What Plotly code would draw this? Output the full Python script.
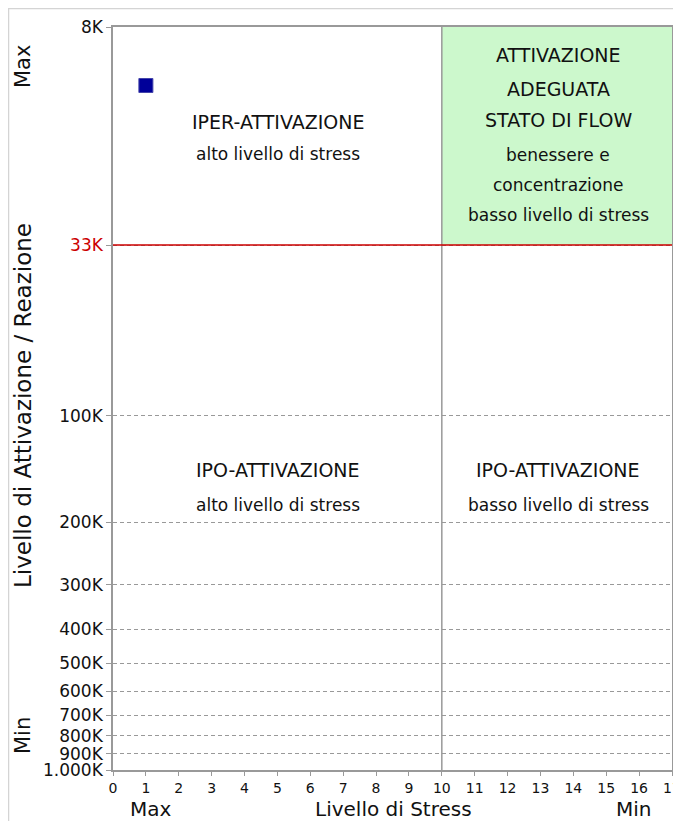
import math
import plotly.graph_objects as go

# ---- data ----
stress_values = [1]
activation_values = [11700]

x_ticks = list(range(0, 18))
y_tick_values = [8000, 33000, 100000, 200000, 300000, 400000, 500000,
                 600000, 700000, 800000, 900000, 1000000]
y_tick_labels = ["8K", "33K", "100K", "200K", "300K", "400K", "500K",
                 "600K", "700K", "800K", "900K", "1.000K"]
threshold_activation = 33000
threshold_stress = 10
x_min, x_max = 0, 17
y_top, y_bottom = 8000, 1000000

# page body has an 8px margin; the figure is placed at (8, 8) in the window
OFF = 8
W, H = 681 - OFF, 829 - 2 * OFF
L, T = 113 - OFF, 27 - OFF
R = W - (672 - OFF)
B = H - (770 - OFF)
pw, ph = W - L - R, H - T - B


def px(xpix):  # reference-window pixel -> paper x
    return (xpix - OFF - L) / pw


def py(ypix):  # reference-window pixel -> paper y
    return (770 - ypix) / ph


FONT = "DejaVu Sans"
red = "#cc0000"
ink = "#111111"

ticktext = [f"<span style='color:{red}'>{t}</span>" if v == threshold_activation else t
            for v, t in zip(y_tick_values, y_tick_labels)]

fig = go.Figure()
fig.add_trace(go.Scatter(
    x=stress_values, y=activation_values, mode="markers",
    marker=dict(symbol="square", size=14, color="#000099",
                line=dict(color="#4444aa", width=1)),
    showlegend=False, hoverinfo="x+y"))

shapes = []
shapes.append(dict(type="rect", xref="x", yref="y", x0=threshold_stress, x1=x_max,
                   y0=y_top, y1=threshold_activation, fillcolor="#ccf8cc",
                   line=dict(width=0), layer="below"))
shapes.append(dict(type="line", xref="x", yref="paper", x0=threshold_stress, x1=threshold_stress,
                   y0=0, y1=1, line=dict(color="#999999", width=1.5)))
shapes.append(dict(type="line", xref="paper", yref="y", x0=0, x1=1,
                   y0=threshold_activation, y1=threshold_activation,
                   line=dict(color=red, width=1.5)))
# outer frame of the picture
shapes.append(dict(type="rect", xref="paper", yref="paper", x0=px(8.5), x1=px(720),
                   y0=py(900), y1=py(8.5), line=dict(color="#d4d4d4", width=1.5),
                   fillcolor="rgba(0,0,0,0)"))

annotations = []


def txt(text, xpix, ypix, size=17, angle=0, color=ink):
    annotations.append(dict(text=text, xref="paper", yref="paper", x=px(xpix), y=py(ypix),
                            showarrow=False, textangle=angle, xanchor="center", yanchor="middle",
                            font=dict(family=FONT, size=size, color=color)))


CAP = 19
left_c, right_c = 278, 558
txt("IPER-ATTIVAZIONE", left_c, 122, CAP)
txt("alto livello di stress", left_c, 154)
for line, ypix, sz in [("ATTIVAZIONE", 55, CAP), ("ADEGUATA", 89, CAP), ("STATO DI FLOW", 120, CAP),
                       ("benessere e", 155, 17), ("concentrazione", 185, 17),
                       ("basso livello di stress", 215, 17)]:
    txt(line, right_c, ypix, sz)
txt("IPO-ATTIVAZIONE", left_c, 470, CAP)
txt("alto livello di stress", left_c, 505)
txt("IPO-ATTIVAZIONE", right_c, 470, CAP)
txt("basso livello di stress", right_c, 505)

# axis titles
txt("Livello di Attivazione / Reazione", 23, 406, size=23, angle=-90)
txt("Max", 23, 67, size=21, angle=-90)
txt("Min", 23, 736, size=21, angle=-90)
txt("Max", 151, 809, size=20)
txt("Livello di Stress", 393, 809, size=20)
txt("Min", 634, 809, size=20)

fig.update_layout(
    width=W, height=H,
    margin=dict(l=L, r=R, t=T, b=B, pad=0, autoexpand=False),
    paper_bgcolor="white", plot_bgcolor="white",
    shapes=shapes, annotations=annotations,
    font=dict(family=FONT, size=16, color=ink),
    xaxis=dict(range=[x_min, x_max], tickvals=x_ticks, ticks="outside", ticklen=4,
               tickcolor="#999999", showgrid=False, zeroline=False, automargin=False,
               ticklabeloverflow="allow",
               showline=True, mirror=True, linecolor="#999999", linewidth=1.5,
               tickfont=dict(family=FONT, size=14, color=ink)),
    yaxis=dict(type="log", range=[math.log10(y_bottom), math.log10(y_top)],
               tickvals=y_tick_values, ticktext=ticktext, ticks="outside", ticklen=5,
               tickcolor="#999999", showgrid=True, gridcolor="#999999", griddash="4px,3px",
               gridwidth=1, zeroline=False, automargin=False,
               showline=True, mirror=True, linecolor="#999999", linewidth=1.5,
               tickfont=dict(family=FONT, size=17, color=ink)),
)

fig.write_html("out.html")
